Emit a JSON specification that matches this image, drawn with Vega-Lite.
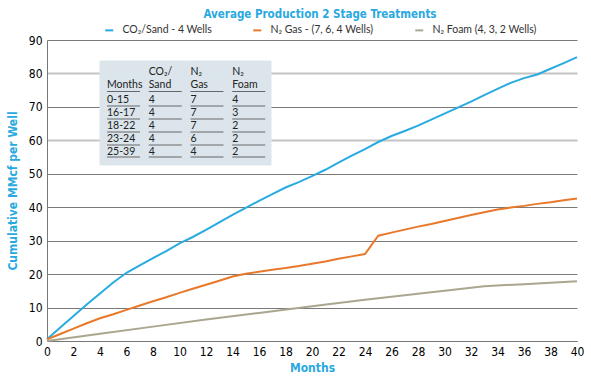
{
  "$schema": "https://vega.github.io/schema/vega-lite/v6.json",
  "width": 530,
  "height": 301,
  "autosize": {"type": "none"},
  "padding": {"left": 47, "top": 40, "right": 14, "bottom": 45},
  "background": "white",
  "title": {
    "text": "Average Production 2 Stage Treatments",
    "font": "DejaVu Sans Condensed, Roboto, sans-serif",
    "fontSize": 11.5,
    "fontWeight": "bold",
    "color": "#29a9e0",
    "anchor": "middle",
    "frame": "group",
    "dx": 8,
    "offset": 5
  },
  "config": {
    "view": {"stroke": null},
    "font": "DejaVu Sans Condensed, Roboto, sans-serif"
  },
  "datasets": {
    "series": [
      {"Months": 0, "MMcf": 0.5, "Treatment": "CO₂/Sand - 4 Wells"},
      {"Months": 1, "MMcf": 4.0, "Treatment": "CO₂/Sand - 4 Wells"},
      {"Months": 2, "MMcf": 7.5, "Treatment": "CO₂/Sand - 4 Wells"},
      {"Months": 3, "MMcf": 10.9, "Treatment": "CO₂/Sand - 4 Wells"},
      {"Months": 4, "MMcf": 14.2, "Treatment": "CO₂/Sand - 4 Wells"},
      {"Months": 5, "MMcf": 17.5, "Treatment": "CO₂/Sand - 4 Wells"},
      {"Months": 6, "MMcf": 20.4, "Treatment": "CO₂/Sand - 4 Wells"},
      {"Months": 7, "MMcf": 22.6, "Treatment": "CO₂/Sand - 4 Wells"},
      {"Months": 8, "MMcf": 24.8, "Treatment": "CO₂/Sand - 4 Wells"},
      {"Months": 9, "MMcf": 26.9, "Treatment": "CO₂/Sand - 4 Wells"},
      {"Months": 10, "MMcf": 29.2, "Treatment": "CO₂/Sand - 4 Wells"},
      {"Months": 11, "MMcf": 31.1, "Treatment": "CO₂/Sand - 4 Wells"},
      {"Months": 12, "MMcf": 33.2, "Treatment": "CO₂/Sand - 4 Wells"},
      {"Months": 13, "MMcf": 35.5, "Treatment": "CO₂/Sand - 4 Wells"},
      {"Months": 14, "MMcf": 37.7, "Treatment": "CO₂/Sand - 4 Wells"},
      {"Months": 15, "MMcf": 39.8, "Treatment": "CO₂/Sand - 4 Wells"},
      {"Months": 16, "MMcf": 41.9, "Treatment": "CO₂/Sand - 4 Wells"},
      {"Months": 17, "MMcf": 43.9, "Treatment": "CO₂/Sand - 4 Wells"},
      {"Months": 18, "MMcf": 45.9, "Treatment": "CO₂/Sand - 4 Wells"},
      {"Months": 19, "MMcf": 47.5, "Treatment": "CO₂/Sand - 4 Wells"},
      {"Months": 20, "MMcf": 49.3, "Treatment": "CO₂/Sand - 4 Wells"},
      {"Months": 21, "MMcf": 51.2, "Treatment": "CO₂/Sand - 4 Wells"},
      {"Months": 22, "MMcf": 53.3, "Treatment": "CO₂/Sand - 4 Wells"},
      {"Months": 23, "MMcf": 55.4, "Treatment": "CO₂/Sand - 4 Wells"},
      {"Months": 24, "MMcf": 57.4, "Treatment": "CO₂/Sand - 4 Wells"},
      {"Months": 25, "MMcf": 59.5, "Treatment": "CO₂/Sand - 4 Wells"},
      {"Months": 26, "MMcf": 61.3, "Treatment": "CO₂/Sand - 4 Wells"},
      {"Months": 27, "MMcf": 62.8, "Treatment": "CO₂/Sand - 4 Wells"},
      {"Months": 28, "MMcf": 64.4, "Treatment": "CO₂/Sand - 4 Wells"},
      {"Months": 29, "MMcf": 66.2, "Treatment": "CO₂/Sand - 4 Wells"},
      {"Months": 30, "MMcf": 68.0, "Treatment": "CO₂/Sand - 4 Wells"},
      {"Months": 31, "MMcf": 69.8, "Treatment": "CO₂/Sand - 4 Wells"},
      {"Months": 32, "MMcf": 71.6, "Treatment": "CO₂/Sand - 4 Wells"},
      {"Months": 33, "MMcf": 73.5, "Treatment": "CO₂/Sand - 4 Wells"},
      {"Months": 34, "MMcf": 75.4, "Treatment": "CO₂/Sand - 4 Wells"},
      {"Months": 35, "MMcf": 77.2, "Treatment": "CO₂/Sand - 4 Wells"},
      {"Months": 36, "MMcf": 78.6, "Treatment": "CO₂/Sand - 4 Wells"},
      {"Months": 37, "MMcf": 79.7, "Treatment": "CO₂/Sand - 4 Wells"},
      {"Months": 38, "MMcf": 81.4, "Treatment": "CO₂/Sand - 4 Wells"},
      {"Months": 39, "MMcf": 83.1, "Treatment": "CO₂/Sand - 4 Wells"},
      {"Months": 40, "MMcf": 84.9, "Treatment": "CO₂/Sand - 4 Wells"},
      {"Months": 0, "MMcf": 0.5, "Treatment": "N₂ Gas - (7, 6, 4 Wells)"},
      {"Months": 1, "MMcf": 2.1, "Treatment": "N₂ Gas - (7, 6, 4 Wells)"},
      {"Months": 2, "MMcf": 3.7, "Treatment": "N₂ Gas - (7, 6, 4 Wells)"},
      {"Months": 3, "MMcf": 5.3, "Treatment": "N₂ Gas - (7, 6, 4 Wells)"},
      {"Months": 4, "MMcf": 6.8, "Treatment": "N₂ Gas - (7, 6, 4 Wells)"},
      {"Months": 5, "MMcf": 8.0, "Treatment": "N₂ Gas - (7, 6, 4 Wells)"},
      {"Months": 6, "MMcf": 9.3, "Treatment": "N₂ Gas - (7, 6, 4 Wells)"},
      {"Months": 7, "MMcf": 10.6, "Treatment": "N₂ Gas - (7, 6, 4 Wells)"},
      {"Months": 8, "MMcf": 11.9, "Treatment": "N₂ Gas - (7, 6, 4 Wells)"},
      {"Months": 9, "MMcf": 13.1, "Treatment": "N₂ Gas - (7, 6, 4 Wells)"},
      {"Months": 10, "MMcf": 14.4, "Treatment": "N₂ Gas - (7, 6, 4 Wells)"},
      {"Months": 11, "MMcf": 15.6, "Treatment": "N₂ Gas - (7, 6, 4 Wells)"},
      {"Months": 12, "MMcf": 16.8, "Treatment": "N₂ Gas - (7, 6, 4 Wells)"},
      {"Months": 13, "MMcf": 18.0, "Treatment": "N₂ Gas - (7, 6, 4 Wells)"},
      {"Months": 14, "MMcf": 19.3, "Treatment": "N₂ Gas - (7, 6, 4 Wells)"},
      {"Months": 15, "MMcf": 20.1, "Treatment": "N₂ Gas - (7, 6, 4 Wells)"},
      {"Months": 16, "MMcf": 20.7, "Treatment": "N₂ Gas - (7, 6, 4 Wells)"},
      {"Months": 17, "MMcf": 21.3, "Treatment": "N₂ Gas - (7, 6, 4 Wells)"},
      {"Months": 18, "MMcf": 21.8, "Treatment": "N₂ Gas - (7, 6, 4 Wells)"},
      {"Months": 19, "MMcf": 22.4, "Treatment": "N₂ Gas - (7, 6, 4 Wells)"},
      {"Months": 20, "MMcf": 23.1, "Treatment": "N₂ Gas - (7, 6, 4 Wells)"},
      {"Months": 21, "MMcf": 23.8, "Treatment": "N₂ Gas - (7, 6, 4 Wells)"},
      {"Months": 22, "MMcf": 24.6, "Treatment": "N₂ Gas - (7, 6, 4 Wells)"},
      {"Months": 23, "MMcf": 25.3, "Treatment": "N₂ Gas - (7, 6, 4 Wells)"},
      {"Months": 24, "MMcf": 26.0, "Treatment": "N₂ Gas - (7, 6, 4 Wells)"},
      {"Months": 25, "MMcf": 31.5, "Treatment": "N₂ Gas - (7, 6, 4 Wells)"},
      {"Months": 26, "MMcf": 32.4, "Treatment": "N₂ Gas - (7, 6, 4 Wells)"},
      {"Months": 27, "MMcf": 33.3, "Treatment": "N₂ Gas - (7, 6, 4 Wells)"},
      {"Months": 28, "MMcf": 34.2, "Treatment": "N₂ Gas - (7, 6, 4 Wells)"},
      {"Months": 29, "MMcf": 35.0, "Treatment": "N₂ Gas - (7, 6, 4 Wells)"},
      {"Months": 30, "MMcf": 35.9, "Treatment": "N₂ Gas - (7, 6, 4 Wells)"},
      {"Months": 31, "MMcf": 36.8, "Treatment": "N₂ Gas - (7, 6, 4 Wells)"},
      {"Months": 32, "MMcf": 37.7, "Treatment": "N₂ Gas - (7, 6, 4 Wells)"},
      {"Months": 33, "MMcf": 38.5, "Treatment": "N₂ Gas - (7, 6, 4 Wells)"},
      {"Months": 34, "MMcf": 39.3, "Treatment": "N₂ Gas - (7, 6, 4 Wells)"},
      {"Months": 35, "MMcf": 39.9, "Treatment": "N₂ Gas - (7, 6, 4 Wells)"},
      {"Months": 36, "MMcf": 40.4, "Treatment": "N₂ Gas - (7, 6, 4 Wells)"},
      {"Months": 37, "MMcf": 41.0, "Treatment": "N₂ Gas - (7, 6, 4 Wells)"},
      {"Months": 38, "MMcf": 41.5, "Treatment": "N₂ Gas - (7, 6, 4 Wells)"},
      {"Months": 39, "MMcf": 42.1, "Treatment": "N₂ Gas - (7, 6, 4 Wells)"},
      {"Months": 40, "MMcf": 42.6, "Treatment": "N₂ Gas - (7, 6, 4 Wells)"},
      {"Months": 0, "MMcf": 0.0, "Treatment": "N₂ Foam (4, 3, 2 Wells)"},
      {"Months": 4, "MMcf": 2.2, "Treatment": "N₂ Foam (4, 3, 2 Wells)"},
      {"Months": 8, "MMcf": 4.3, "Treatment": "N₂ Foam (4, 3, 2 Wells)"},
      {"Months": 12, "MMcf": 6.4, "Treatment": "N₂ Foam (4, 3, 2 Wells)"},
      {"Months": 16, "MMcf": 8.4, "Treatment": "N₂ Foam (4, 3, 2 Wells)"},
      {"Months": 20, "MMcf": 10.4, "Treatment": "N₂ Foam (4, 3, 2 Wells)"},
      {"Months": 24, "MMcf": 12.3, "Treatment": "N₂ Foam (4, 3, 2 Wells)"},
      {"Months": 28, "MMcf": 14.1, "Treatment": "N₂ Foam (4, 3, 2 Wells)"},
      {"Months": 33, "MMcf": 16.4, "Treatment": "N₂ Foam (4, 3, 2 Wells)"},
      {"Months": 36, "MMcf": 17.0, "Treatment": "N₂ Foam (4, 3, 2 Wells)"},
      {"Months": 40, "MMcf": 17.9, "Treatment": "N₂ Foam (4, 3, 2 Wells)"}
    ],
    "cells": [
      {"row": "h1", "col": "m", "text": ""},
      {"row": "h1", "col": "c", "text": "CO₂/"},
      {"row": "h1", "col": "g", "text": "N₂"},
      {"row": "h1", "col": "f", "text": "N₂"},
      {"row": "h2", "col": "m", "text": "Months"},
      {"row": "h2", "col": "c", "text": "Sand"},
      {"row": "h2", "col": "g", "text": "Gas"},
      {"row": "h2", "col": "f", "text": "Foam"},
      {"row": "0-15", "col": "m", "text": "0-15"},
      {"row": "0-15", "col": "c", "text": "4"},
      {"row": "0-15", "col": "g", "text": "7"},
      {"row": "0-15", "col": "f", "text": "4"},
      {"row": "16-17", "col": "m", "text": "16-17"},
      {"row": "16-17", "col": "c", "text": "4"},
      {"row": "16-17", "col": "g", "text": "7"},
      {"row": "16-17", "col": "f", "text": "3"},
      {"row": "18-22", "col": "m", "text": "18-22"},
      {"row": "18-22", "col": "c", "text": "4"},
      {"row": "18-22", "col": "g", "text": "7"},
      {"row": "18-22", "col": "f", "text": "2"},
      {"row": "23-24", "col": "m", "text": "23-24"},
      {"row": "23-24", "col": "c", "text": "4"},
      {"row": "23-24", "col": "g", "text": "6"},
      {"row": "23-24", "col": "f", "text": "2"},
      {"row": "25-39", "col": "m", "text": "25-39"},
      {"row": "25-39", "col": "c", "text": "4"},
      {"row": "25-39", "col": "g", "text": "4"},
      {"row": "25-39", "col": "f", "text": "2"}
    ]
  },
  "layer": [
    {
      "data": {"name": "series"},
      "mark": {"type": "line", "strokeWidth": 2},
      "encoding": {
        "x": {
          "field": "Months", "type": "quantitative",
          "scale": {"domain": [0, 40], "nice": false},
          "axis": {
            "values": [0,2,4,6,8,10,12,14,16,18,20,22,24,26,28,30,32,34,36,38,40],
            "title": "Months",
            "titleColor": "#29a9e0", "titleFontSize": 12, "titleFontWeight": "bold",
            "titlePadding": 5,
            "labelFontSize": 12, "labelColor": "#000", "labelPadding": 5,
            "labelFlush": false,
            "ticks": false, "grid": false,
            "domainColor": "#777", "domainWidth": 1
          }
        },
        "y": {
          "field": "MMcf", "type": "quantitative",
          "scale": {"domain": [0, 90], "nice": false},
          "axis": {
            "values": [0,10,20,30,40,50,60,70,80,90],
            "title": "Cumulative MMcf per Well",
            "titleColor": "#29a9e0", "titleFontSize": 12, "titleFontWeight": "bold",
            "titlePadding": 9,
            "labelFontSize": 12, "labelColor": "#000", "labelPadding": 5,
            "ticks": false, "grid": true,
            "gridColor": {"condition": {"test": "datum.value === 60 || datum.value === 80", "value": "#c4c4c4"}, "value": "#7a7a7a"},
            "gridWidth": {"condition": {"test": "datum.value === 60 || datum.value === 80", "value": 2}, "value": 1},
            "domainColor": "#777", "domainWidth": 1
          }
        },
        "color": {
          "field": "Treatment", "type": "nominal",
          "scale": {
            "domain": ["CO₂/Sand - 4 Wells", "N₂ Gas - (7, 6, 4 Wells)", "N₂ Foam (4, 3, 2 Wells)"],
            "range": ["#29abe2", "#e8782a", "#aaa68f"]
          },
          "legend": {
            "orient": "none", "legendX": 57, "legendY": -15,
            "direction": "horizontal", "title": null,
            "symbolType": "stroke", "symbolStrokeWidth": 2, "symbolSize": 64,
            "labelFont": "Lato, Open Sans, sans-serif", "labelFontSize": 10.5, "labelColor": "#333",
            "columnPadding": 37, "labelOffset": 8
          }
        }
      }
    },
    {
      "data": {"name": "cells"},
      "resolve": {"scale": {"x": "independent", "y": "independent"}},
      "layer": [
        {
          "mark": {"type": "rect", "fill": "#dbe5eb", "stroke": "#dbe5eb", "strokeWidth": 1},
          "encoding": {
            "x": {"field": "col", "type": "nominal", "axis": null,
                  "scale": {"type": "band", "domain": ["m","c","g","f"], "range": [53, 224], "paddingInner": 0, "paddingOuter": 0}},
            "y": {"field": "row", "type": "nominal", "axis": null,
                  "scale": {"type": "band", "domain": ["h1","h2","0-15","16-17","18-22","23-24","25-39"], "range": [21, 125], "paddingInner": 0, "paddingOuter": 0}}
          }
        },
        {
          "transform": [{"filter": "datum.row === 'h1' || datum.row === 'h2'"}],
          "mark": {"type": "text", "align": "left", "baseline": "middle", "dx": 7, "dy": -2.5, "font": "Lato, Open Sans, sans-serif", "fontSize": 10.5, "color": "#222"},
          "encoding": {
            "x": {"field": "col", "type": "nominal", "axis": null, "bandPosition": 0,
                  "scale": {"type": "band", "domain": ["m","c","g","f"], "range": [53, 220], "paddingInner": 0, "paddingOuter": 0}},
            "y": {"field": "row", "type": "nominal", "axis": null,
                  "scale": {"type": "band", "domain": ["h1","h2","0-15","16-17","18-22","23-24","25-39"], "range": [21, 125], "paddingInner": 0, "paddingOuter": 0.5}},
            "text": {"field": "text"}
          }
        },
        {
          "transform": [{"filter": "datum.row !== 'h1' && datum.row !== 'h2'"}],
          "mark": {"type": "text", "align": "left", "baseline": "middle", "dx": 7, "font": "Lato, Open Sans, sans-serif", "fontSize": 10.5, "color": "#222"},
          "encoding": {
            "x": {"field": "col", "type": "nominal", "axis": null, "bandPosition": 0,
                  "scale": {"type": "band", "domain": ["m","c","g","f"], "range": [53, 220], "paddingInner": 0, "paddingOuter": 0}},
            "y": {"field": "row", "type": "nominal", "axis": null,
                  "scale": {"type": "band", "domain": ["h1","h2","0-15","16-17","18-22","23-24","25-39"], "range": [21, 125], "paddingInner": 0, "paddingOuter": 0.5}},
            "text": {"field": "text"}
          }
        },
        {
          "transform": [{"filter": "datum.row === 'h2'"}],
          "mark": {"type": "tick", "orient": "horizontal", "size": 33, "thickness": 1, "color": "#333", "xOffset": 2.6, "yOffset": -2},
          "encoding": {
            "x": {"field": "col", "type": "nominal", "axis": null,
                  "scale": {"type": "band", "domain": ["m","c","g","f"], "range": [53, 220], "paddingInner": 0, "paddingOuter": 0}},
            "y": {"field": "row", "type": "nominal", "axis": null, "bandPosition": 1,
                  "scale": {"type": "band", "domain": ["h1","h2","0-15","16-17","18-22","23-24","25-39"], "range": [21, 125], "paddingInner": 0, "paddingOuter": 0.5}}
          }
        },
        {
          "transform": [{"filter": "datum.row !== 'h1' && datum.row !== 'h2' && datum.row !== '25-39'"}],
          "mark": {"type": "tick", "orient": "horizontal", "size": 33, "thickness": 1, "color": "#333", "xOffset": 2.6, "yOffset": -0.5},
          "encoding": {
            "x": {"field": "col", "type": "nominal", "axis": null,
                  "scale": {"type": "band", "domain": ["m","c","g","f"], "range": [53, 220], "paddingInner": 0, "paddingOuter": 0}},
            "y": {"field": "row", "type": "nominal", "axis": null, "bandPosition": 1,
                  "scale": {"type": "band", "domain": ["h1","h2","0-15","16-17","18-22","23-24","25-39"], "range": [21, 125], "paddingInner": 0, "paddingOuter": 0.5}}
          }
        },
        {
          "transform": [{"filter": "datum.row === '25-39'"}],
          "mark": {"type": "tick", "orient": "horizontal", "size": 33, "thickness": 2, "color": "#8a8a8a", "xOffset": 2.6, "yOffset": -1.5},
          "encoding": {
            "x": {"field": "col", "type": "nominal", "axis": null,
                  "scale": {"type": "band", "domain": ["m","c","g","f"], "range": [53, 220], "paddingInner": 0, "paddingOuter": 0}},
            "y": {"field": "row", "type": "nominal", "axis": null, "bandPosition": 1,
                  "scale": {"type": "band", "domain": ["h1","h2","0-15","16-17","18-22","23-24","25-39"], "range": [21, 125], "paddingInner": 0, "paddingOuter": 0.5}}
          }
        }
      ]
    }
  ],
  "resolve": {"scale": {"x": "independent", "y": "independent"}}
}
